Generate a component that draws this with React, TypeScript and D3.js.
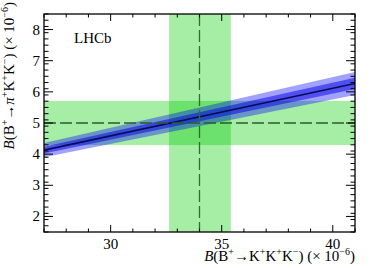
import * as d3 from 'd3';

// axis ranges and ticks (units of 1e-6)
const xDomain = [27, 41];
const yDomain = [1.5, 8.5];
const xMajor = [30, 35, 40];
const yMajor = [2, 3, 4, 5, 6, 7, 8];

// measured B(B+ -> K+K+K-) and B(B+ -> pi+K+K-) with 1 sigma ranges
const kkkMeasured = [34.0, 32.63, 35.41];
const pikkMeasured = [5.0, 4.29, 5.71];

// predicted relation: central line and the two error bands at the ends of the x range
const bandX = [27, 41];
const bandCentral = [4.13, 6.27];
const bandInner = [0.11, 0.18];
const bandOuter = [0.23, 0.37];

const W = 374;
const H = 268;
const m = { top: 14, right: 19, bottom: 36, left: 44 };
const FONT = '"Liberation Serif", "Times New Roman", serif';

export default function App() {
  const iw = W - m.left - m.right;
  const ih = H - m.top - m.bottom;
  const x = d3.scaleLinear().domain(xDomain).range([0, iw]);
  const y = d3.scaleLinear().domain(yDomain).range([ih, 0]);

  const xMinor = d3.range(xDomain[0], xDomain[1] + 0.001, 1).filter((v) => !xMajor.includes(v));
  const yMinor = d3
    .range(yDomain[0], yDomain[1] + 0.001, 0.2)
    .map((v) => Math.round(v * 10) / 10)
    .filter((v) => !yMajor.includes(v));

  const pts = bandX.map((bx, i) => ({ x: bx, c: bandCentral[i], i: bandInner[i], o: bandOuter[i] }));
  const outer = d3
    .area<any>()
    .x((d) => x(d.x))
    .y0((d) => y(d.c - d.o))
    .y1((d) => y(d.c + d.o));
  const inner = d3
    .area<any>()
    .x((d) => x(d.x))
    .y0((d) => y(d.c - d.i))
    .y1((d) => y(d.c + d.i));
  const central = d3
    .line<any>()
    .x((d) => x(d.x))
    .y((d) => y(d.c));

  const green = 'rgb(0,204,0)';
  const sup = { fontSize: 10 } as const;

  return (
    <svg
      width={W}
      height={H}
      style={{ position: 'absolute', left: 0, top: 0, background: '#fff', fontFamily: FONT }}
    >
      <defs>
        <clipPath id="plot">
          <rect width={iw} height={ih} />
        </clipPath>
      </defs>
      <g transform={`translate(${m.left},${m.top})`}>
        <g clipPath="url(#plot)">
          {/* green measurement bands */}
          <rect
            x={x(kkkMeasured[1])}
            y={0}
            width={x(kkkMeasured[2]) - x(kkkMeasured[1])}
            height={ih}
            fill={green}
            opacity={0.35}
          />
          <rect
            x={0}
            y={y(pikkMeasured[2])}
            width={iw}
            height={y(pikkMeasured[1]) - y(pikkMeasured[2])}
            fill={green}
            opacity={0.35}
          />
          {/* predicted bands */}
          <path d={outer(pts) ?? ''} fill="rgb(0,0,255)" opacity={0.37} />
          <path d={inner(pts) ?? ''} fill="rgb(0,0,230)" opacity={0.5} />
          <path d={central(pts) ?? ''} fill="none" stroke="#0a0a55" strokeWidth={1.6} />
          {/* dashed central values */}
          <line
            x1={x(kkkMeasured[0])}
            x2={x(kkkMeasured[0])}
            y1={0}
            y2={ih}
            stroke="#2e6e2e"
            strokeWidth={1.3}
            strokeDasharray="12,4"
          />
          <line
            x1={0}
            x2={iw}
            y1={y(pikkMeasured[0])}
            y2={y(pikkMeasured[0])}
            stroke="#2e5a2e"
            strokeWidth={1.3}
            strokeDasharray="12,4"
          />
        </g>

        {/* frame */}
        <rect width={iw} height={ih} fill="none" stroke="#000" strokeWidth={1.3} />

        {/* x ticks, bottom and top */}
        {xMajor.map((v) => (
          <g key={'xM' + v}>
            <line x1={x(v)} x2={x(v)} y1={ih} y2={ih - 7} stroke="#000" />
            <line x1={x(v)} x2={x(v)} y1={0} y2={7} stroke="#000" />
            <text x={x(v)} y={ih + 17} textAnchor="middle" fontSize={15}>
              {v}
            </text>
          </g>
        ))}
        {xMinor.map((v) => (
          <g key={'xm' + v}>
            <line x1={x(v)} x2={x(v)} y1={ih} y2={ih - 3.5} stroke="#000" />
            <line x1={x(v)} x2={x(v)} y1={0} y2={3.5} stroke="#000" />
          </g>
        ))}

        {/* y ticks, left and right */}
        {yMajor.map((v) => (
          <g key={'yM' + v}>
            <line x1={0} x2={9} y1={y(v)} y2={y(v)} stroke="#000" />
            <line x1={iw} x2={iw - 9} y1={y(v)} y2={y(v)} stroke="#000" />
            <text x={-4} y={y(v) + 5} textAnchor="end" fontSize={15}>
              {v}
            </text>
          </g>
        ))}
        {yMinor.map((v) => (
          <g key={'ym' + v}>
            <line x1={0} x2={4.5} y1={y(v)} y2={y(v)} stroke="#000" />
            <line x1={iw} x2={iw - 4.5} y1={y(v)} y2={y(v)} stroke="#000" />
          </g>
        ))}

        <text x={30} y={29} fontSize={15}>
          LHCb
        </text>

        {/* axis titles */}
        <text x={iw} y={ih + 29} textAnchor="end" fontSize={15}>
          <tspan fontStyle="italic">B</tspan>
          <tspan>(B</tspan>
          <tspan {...sup} dy={-6}>+</tspan>
          <tspan dy={6}>→K</tspan>
          <tspan {...sup} dy={-6}>+</tspan>
          <tspan dy={6}>K</tspan>
          <tspan {...sup} dy={-6}>+</tspan>
          <tspan dy={6}>K</tspan>
          <tspan {...sup} dy={-6}>−</tspan>
          <tspan dy={6}>) (× 10</tspan>
          <tspan {...sup} dy={-6}>−6</tspan>
          <tspan dy={6}>)</tspan>
        </text>
        <text transform={`translate(${-30},${-12}) rotate(-90)`} textAnchor="end" fontSize={15}>
          <tspan fontStyle="italic">B</tspan>
          <tspan>(B</tspan>
          <tspan {...sup} dy={-6}>+</tspan>
          <tspan dy={6}>→</tspan>
          <tspan fontStyle="italic">π</tspan>
          <tspan {...sup} dy={-6}>+</tspan>
          <tspan dy={6}>K</tspan>
          <tspan {...sup} dy={-6}>+</tspan>
          <tspan dy={6}>K</tspan>
          <tspan {...sup} dy={-6}>−</tspan>
          <tspan dy={6}>) (× 10</tspan>
          <tspan {...sup} dy={-6}>−6</tspan>
          <tspan dy={6}>)</tspan>
        </text>
      </g>
    </svg>
  );
}
